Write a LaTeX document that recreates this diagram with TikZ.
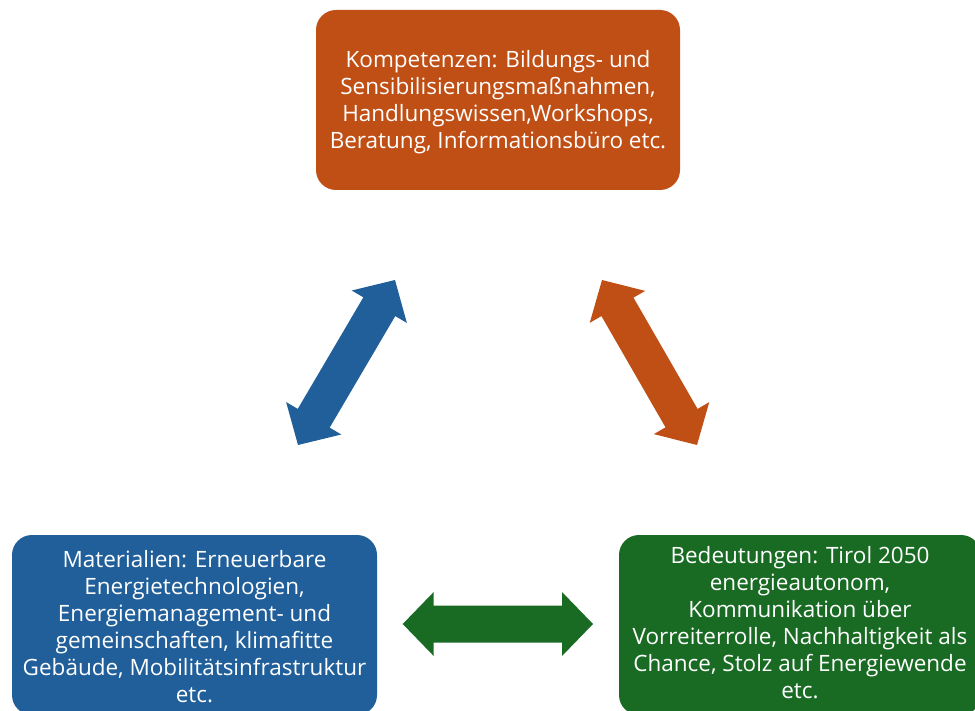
\documentclass[tikz,border=0pt]{standalone}
\usepackage{fontspec}
\setmainfont{Open Sans}
\usetikzlibrary{calc}
\definecolor{orangeC}{HTML}{C04F15}
\definecolor{blueC}{HTML}{215F9A}
\definecolor{greenC}{HTML}{196B24}
\tikzset{
  card/.style={rounded corners=20pt, inner sep=0pt, align=center, text=white,
    font=\fontsize{22.5}{27}\selectfont},
}
\newcommand{\dblarr}[3]{%
  \coordinate (h1) at ($(#1)!31pt!(#2)$);
  \coordinate (h2) at ($(#2)!31pt!(#1)$);
  \fill[#3] (#1) -- ($(h1)!32pt!90:(#2)$) -- ($(h1)!18.5pt!90:(#2)$)
    -- ($(h2)!18.5pt!-90:(#1)$) -- ($(h2)!32pt!-90:(#1)$) -- (#2)
    -- ($(h2)!32pt!90:(#1)$) -- ($(h2)!18.5pt!90:(#1)$)
    -- ($(h1)!18.5pt!-90:(#2)$) -- ($(h1)!32pt!-90:(#2)$) -- cycle;}
\begin{document}
\begin{tikzpicture}[x=1pt,y=-1pt]
\useasboundingbox (0,0) rectangle (975,711);
\clip (0,0) rectangle (975,711);
% boxes
\fill[orangeC, rounded corners=20pt] (316,10) rectangle (680,190);
\fill[blueC, rounded corners=20pt] (12,535) rectangle (377,715);
\fill[greenC, rounded corners=20pt] (619,535) rectangle (981,715);
\node[card] (komp) at (498,102.5) {Kompetenzen: Bildungs- und\\Sensibilisierungsmaßnahmen,\\Handlungswissen,Workshops,\\Beratung, Informationsbüro etc.};
\node[card] (mat) at (194.5,626.5) {Materialien: Erneuerbare\\Energietechnologien,\\Energiemanagement- und\\gemeinschaften, klimafitte\\Gebäude, Mobilitätsinfrastruktur\\etc.};
\node[card] (bed) at (800,622.5) {Bedeutungen: Tirol 2050\\energieautonom,\\Kommunikation über\\Vorreiterrolle, Nachhaltigkeit als\\Chance, Stolz auf Energiewende\\etc.};
% arrows
\coordinate (b1) at (298,445); \coordinate (b2) at (395,280);
\coordinate (o1) at (697,445); \coordinate (o2) at (602,280);
\coordinate (g1) at (402.7,624); \coordinate (g2) at (593,624);
\dblarr{b1}{b2}{blueC}
\dblarr{o1}{o2}{orangeC}
\dblarr{g1}{g2}{greenC}
\end{tikzpicture}
\end{document}
